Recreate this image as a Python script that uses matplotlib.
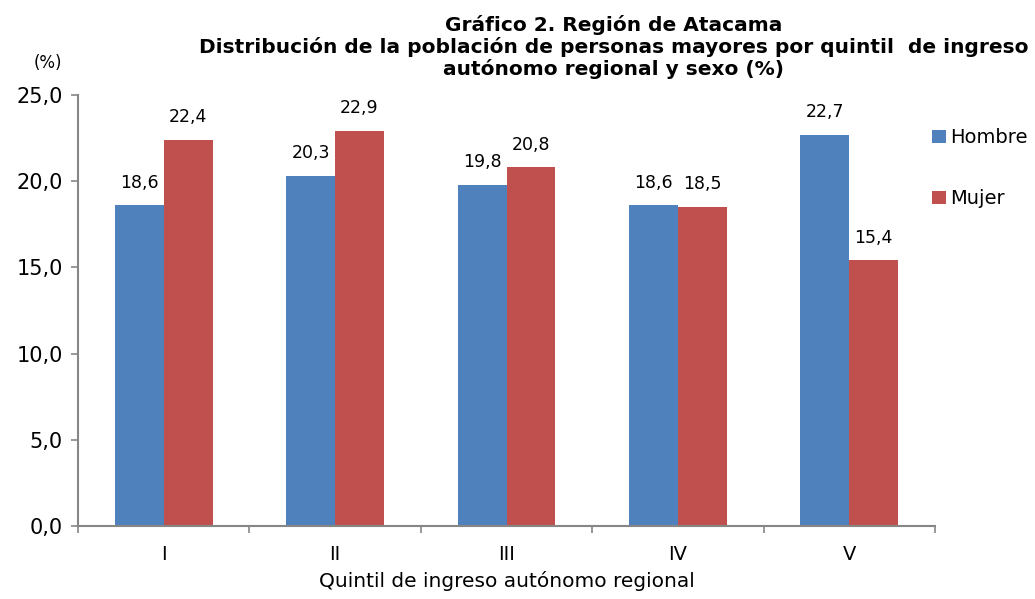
import matplotlib
matplotlib.use('Agg')
import matplotlib.pyplot as plt
import numpy as np

quintiles = ['I', 'II', 'III', 'IV', 'V']
hombre = [18.6, 20.3, 19.8, 18.6, 22.7]
mujer = [22.4, 22.9, 20.8, 18.5, 15.4]
yticks = [0, 5, 10, 15, 20, 25]

blue = '#4f81bd'
red = '#c0504d'
grey = '#868686'

plt.rcParams['font.family'] = ['DejaVu Sans']

fig = plt.figure(figsize=(10.35, 5.99), dpi=100)
ax = fig.add_axes([0.0754, 0.1219, 0.828, 0.7195])

x = np.arange(len(quintiles))
w = 0.285
b1 = ax.bar(x - w / 2, hombre, w, color=blue, label='Hombre')
b2 = ax.bar(x + w / 2, mujer, w, color=red, label='Mujer')

# etiquetas de valor sobre cada barra
for bars, vals in ((b1, hombre), (b2, mujer)):
    for r, v in zip(bars, vals):
        ax.text(r.get_x() + r.get_width() / 2, v + 0.8, ('%.1f' % v).replace('.', ','),
                ha='center', va='bottom', fontsize=12.5)

ax.set_xlim(-0.5, len(quintiles) - 0.5)
ax.set_ylim(0, 25)
ax.set_yticks(yticks)
ax.set_yticklabels([('%.1f' % t).replace('.', ',') for t in yticks], fontsize=15)
ax.set_xticks(x)
ax.set_xticklabels(quintiles, fontsize=14)
ax.set_xticks(np.arange(len(quintiles) + 1) - 0.5, minor=True)
ax.tick_params(axis='x', which='major', length=0, pad=14)
ax.tick_params(axis='x', which='minor', length=5, color=grey, width=1.2)
ax.tick_params(axis='y', length=5, color=grey, width=1.2, pad=6)

for s in ['top', 'right']:
    ax.spines[s].set_visible(False)
for s in ['left', 'bottom']:
    ax.spines[s].set_color(grey)
    ax.spines[s].set_linewidth(1.5)

ax.set_xlabel('Quintil de ingreso autónomo regional', fontsize=14.5, labelpad=5)

fig.text(0.593, 0.975, 'Gráfico 2. Región de Atacama\n'
         'Distribución de la población de personas mayores por quintil  de ingreso\n'
         'autónomo regional y sexo (%)',
         ha='center', va='top', fontsize=14.5, fontweight='bold', linespacing=1.13)
fig.text(0.046, 0.895, '(%)', ha='center', va='center', fontsize=12)

fig.legend(handles=[b1, b2], loc='upper left', bbox_to_anchor=(0.884, 0.815),
           frameon=False, fontsize=14, handlelength=0.7, handleheight=0.7,
           handletextpad=0.2, labelspacing=2.15)

fig.savefig('out.png', dpi=100)
